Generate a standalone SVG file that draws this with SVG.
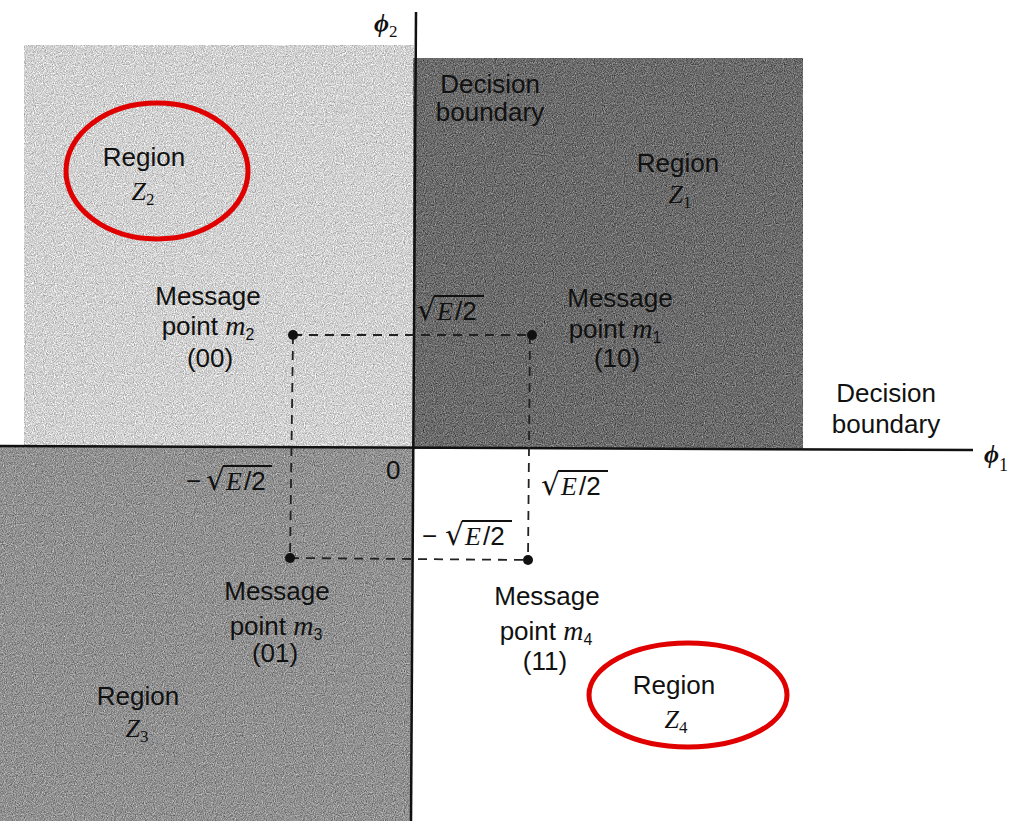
<svg xmlns="http://www.w3.org/2000/svg" width="1029" height="821" viewBox="0 0 1029 821">
<style>
.t{font-family:"Liberation Sans",Arial,sans-serif;font-size:26px;fill:#111}
.tc{text-anchor:middle}
.i{font-family:"Liberation Serif","Times New Roman",serif;font-style:italic}
.rad{font-family:"DejaVu Sans",sans-serif;font-size:30px}
.ax{stroke:#111;stroke-width:2.5;fill:none}
.dash{stroke:#222;stroke-width:1.8;stroke-dasharray:9 7;fill:none}
.pt{fill:#111}
.ring{fill:none;stroke:#e00000;stroke-width:5}
.ov{stroke:#111;stroke-width:2}
</style>
<defs>
<filter id="grain" x="0" y="0" width="100%" height="100%" color-interpolation-filters="sRGB">
<feTurbulence type="fractalNoise" baseFrequency="0.9" numOctaves="2" seed="5" result="n"/>
<feColorMatrix in="n" type="matrix" values="0.33 0.33 0.33 0 0  0.33 0.33 0.33 0 0  0.33 0.33 0.33 0 0  0 0 0 0 1" result="g"/>
<feComposite in="SourceGraphic" in2="g" operator="arithmetic" k1="0" k2="1" k3="1.1" k4="-0.55"/>
</filter>
</defs>
<rect width="1029" height="821" fill="#fff"/>
<g id="regions">
<rect id="regionZ2" x="24" y="45" width="390" height="402" fill="#d2d2d2" filter="url(#grain)"/>
<rect id="regionZ1" x="413" y="58" width="390" height="391" fill="#6c6c6c" filter="url(#grain)"/>
<rect id="regionZ3" x="0" y="447" width="412" height="374" fill="#929292" filter="url(#grain)"/>
</g>
<g id="connectors">
<line class="ax" x1="416" y1="12" x2="411" y2="821"/>
<line class="ax" x1="0" y1="446" x2="973" y2="450"/>
<line class="dash" x1="293" y1="335" x2="532" y2="335"/>
<line class="dash" x1="293" y1="335" x2="290" y2="558"/>
<line class="dash" x1="290" y1="558" x2="528" y2="560"/>
<line class="dash" x1="530" y1="335" x2="528" y2="560"/>
</g>
<g id="points">
<circle id="m2" class="pt" cx="293" cy="335" r="5"/>
<circle id="m1" class="pt" cx="532" cy="335" r="5"/>
<circle id="m3" class="pt" cx="290" cy="558" r="5"/>
<circle id="m4" class="pt" cx="528" cy="560" r="5"/>
</g>
<g id="axis-labels">
<text class="t i" x="374" y="32" font-size="28" font-weight="bold">ϕ<tspan font-size="17" dy="5" font-style="normal" font-weight="normal">2</tspan></text>
<text class="t i" x="984" y="463" font-size="28" font-weight="bold">ϕ<tspan font-size="18" dy="8" font-style="normal" font-weight="normal">1</tspan></text>
<text class="t" x="386" y="479" font-size="24">0</text>
</g>
<g id="boundary-labels">
<text class="t tc" x="490" y="93" font-size="23">Decision</text>
<text class="t tc" x="490" y="121" font-size="23">boundary</text>
<text class="t tc" x="886" y="402">Decision</text>
<text class="t tc" x="886" y="433">boundary</text>
</g>
<g id="region-labels">
<text class="t tc" x="144" y="166">Region</text>
<text class="t tc i" x="143" y="200" font-size="28">Z<tspan font-size="17" dy="5" font-style="normal">2</tspan></text>
<text class="t tc" x="678" y="172">Region</text>
<text class="t tc i" x="680" y="203" font-size="28">Z<tspan font-size="17" dy="5" font-style="normal">1</tspan></text>
<text class="t tc" x="138" y="705">Region</text>
<text class="t tc i" x="137" y="737" font-size="28">Z<tspan font-size="17" dy="5" font-style="normal">3</tspan></text>
<text class="t tc" x="674" y="694">Region</text>
<text class="t tc i" x="676" y="728" font-size="28">Z<tspan font-size="17" dy="5" font-style="normal">4</tspan></text>
</g>
<g id="message-labels">
<text class="t tc" x="208" y="305">Message</text>
<text class="t tc" x="208" y="335">point <tspan class="i" font-size="28">m</tspan><tspan font-size="16" dy="5">2</tspan></text>
<text class="t tc" x="210" y="367">(00)</text>
<text class="t tc" x="620" y="307">Message</text>
<text class="t tc" x="615" y="338">point <tspan class="i" font-size="28">m</tspan><tspan font-size="16" dy="5">1</tspan></text>
<text class="t tc" x="617" y="367">(10)</text>
<text class="t tc" x="277" y="600">Message</text>
<text class="t tc" x="276" y="635">point <tspan class="i" font-size="28">m</tspan><tspan font-size="16" dy="5">3</tspan></text>
<text class="t tc" x="275" y="662">(01)</text>
<text class="t tc" x="547" y="605">Message</text>
<text class="t tc" x="546" y="640">point <tspan class="i" font-size="28">m</tspan><tspan font-size="16" dy="5">4</tspan></text>
<text class="t tc" x="545" y="670">(11)</text>
</g>
<g id="sqrt-labels">
<text class="t" y="320" font-size="32"><tspan class="rad" x="417">√</tspan><tspan class="i" x="437">E</tspan><tspan x="455">/2</tspan></text>
<line class="ov" x1="434" y1="296" x2="484" y2="296"/>
<text class="t" y="490" font-size="32"><tspan x="186">−</tspan><tspan class="rad" x="206">√</tspan><tspan class="i" x="226">E</tspan><tspan x="244">/2</tspan></text>
<line class="ov" x1="223" y1="466" x2="272" y2="466"/>
<text class="t" y="495" font-size="32"><tspan class="rad" x="541">√</tspan><tspan class="i" x="561">E</tspan><tspan x="579">/2</tspan></text>
<line class="ov" x1="558" y1="471" x2="608" y2="471"/>
<text class="t" y="545" font-size="32"><tspan x="422">−</tspan><tspan class="rad" x="445">√</tspan><tspan class="i" x="465">E</tspan><tspan x="483">/2</tspan></text>
<line class="ov" x1="462" y1="521" x2="512" y2="521"/>
</g>
<g id="highlights">
<ellipse class="ring" cx="157" cy="171" rx="91" ry="68"/>
<ellipse class="ring" cx="688" cy="695" rx="99" ry="52"/>
</g>
</svg>
